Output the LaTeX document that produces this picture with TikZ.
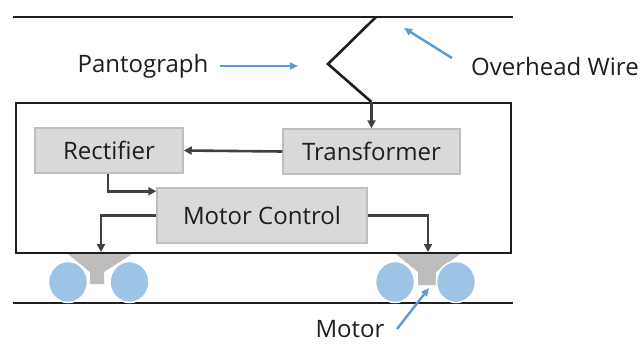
\documentclass[tikz,border=0pt]{standalone}
\usepackage{fontspec}
\setmainfont{Open Sans}
\usetikzlibrary{arrows.meta,calc}
\definecolor{boxfill}{HTML}{D9D9D9}
\definecolor{boxline}{HTML}{BFBFBF}
\definecolor{ink}{HTML}{1E1E1E}
\definecolor{flow}{HTML}{404040}
\definecolor{callout}{HTML}{5B9BD5}
\definecolor{wheel}{HTML}{9DC3E6}
\definecolor{bogie}{HTML}{BDBDBD}
\tikzset{
  block/.style={draw=boxline, line width=1.5pt, fill=boxfill, inner sep=0pt,
    font=\fontsize{24}{28}\selectfont, text=ink},
  flowarrow/.style={draw=flow, line width=2.6pt, -{Triangle[length=8pt,width=8pt]}},
  wire/.style={draw=ink, line width=2.6pt},
  calloutarrow/.style={draw=callout, line width=2.4pt, -{Triangle[length=8pt,width=7pt]}},
  label/.style={font=\fontsize{24}{28}\selectfont, text=ink, inner sep=0pt},
  wheelshape/.style={fill=wheel, draw=white, line width=1.5pt},
}
\begin{document}
\begin{tikzpicture}[x=1pt,y=-1pt]
\useasboundingbox[fill=white] (0,0) rectangle (643,343);

% overhead wire and rail
\draw[wire] (13,17) -- (513,17);
\draw[wire] (13,303) -- (513,303);

% bogies with motors and wheels
\fill[bogie] (68,254) -- (132,254) -- (104,272) -- (104,284) -- (90,284) -- (90,272) -- cycle;
\fill[bogie] (396,254) -- (460,254) -- (436,272) -- (436,285) -- (418,285) -- (418,272) -- cycle;
\draw[wheelshape] (68,282) ellipse [x radius=19.5, y radius=20.5];
\draw[wheelshape] (129.5,282) ellipse [x radius=19.5, y radius=20.5];
\draw[wheelshape] (395,282) ellipse [x radius=19.5, y radius=20.5];
\draw[wheelshape] (456,282) ellipse [x radius=19.5, y radius=20.5];

% car body
\node[draw=ink, line width=2.6pt, minimum width=495pt, minimum height=150pt, inner sep=0pt]
  (body) at (263.5,178) {};

% equipment blocks
\node[block, minimum width=148pt, minimum height=45pt] (rect) at (109,150.5) {Rectifier};
\node[block, minimum width=177pt, minimum height=45pt] (trans) at (371.5,151.5) {Transformer};
\node[block, minimum width=210pt, minimum height=55pt] (mc) at (262,215.5) {Motor Control};

% pantograph
\coordinate (contact) at (376,17);
\coordinate (knee) at (328,64);
\coordinate (foot) at (371.5,102);
\draw[wire, line join=miter] (contact) -- (knee) -- (foot);
\draw[flowarrow] (foot) -- (trans.north);

% power flow
\draw[flowarrow] (trans.west) -- (rect.east);
\draw[flowarrow] ([xshift=-1pt]rect.south) |- ($(mc.north west)+(0,4)$);
\coordinate (mleft) at (101,252);
\coordinate (mright) at (428,252);
\draw[flowarrow] (mc.west) -| (mleft);
\draw[flowarrow] (mc.east) -| (mright);

% labels
\node[label] (lpanto) at (143,66) {Pantograph};
\node[label, anchor=west] (lwire) at (471,66) {Overhead Wire};
\node[label] (lmotor) at (350,329) {Motor};
\coordinate (pantotip) at (298,66);
\coordinate (wiretip) at (404,28);
\coordinate (motortip) at (429,288);
\draw[calloutarrow] (220,66) -- (pantotip);
\draw[calloutarrow] (452,58) -- (wiretip);
\draw[calloutarrow] (397,329) -- (motortip);
\end{tikzpicture}
\end{document}
